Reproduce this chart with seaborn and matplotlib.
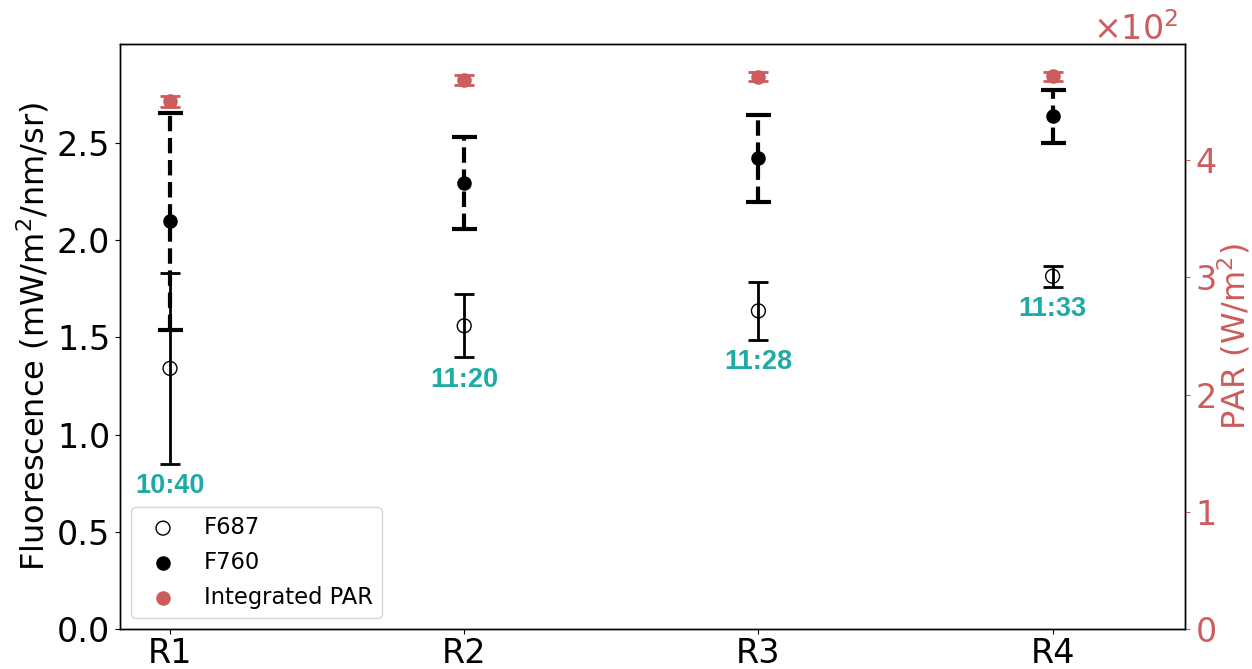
import numpy as np
import matplotlib
matplotlib.use("Agg")
import matplotlib.pyplot as plt
import seaborn as sns
from matplotlib.ticker import ScalarFormatter

# ---- data ----
categories = ["R1", "R2", "R3", "R4"]
times = ["10:40", "11:20", "11:28", "11:33"]
f687_mean = [1.341, 1.560, 1.637, 1.815]
f687_err = [0.490, 0.162, 0.148, 0.053]
f760_mean = [2.099, 2.293, 2.421, 2.639]
f760_err = [0.558, 0.236, 0.223, 0.136]
par_mean = [450.0, 468.0, 471.0, 471.5]
par_err = [5.0, 4.3, 3.7, 3.8]

sns.set_style("ticks")
plt.rcParams.update({
    "font.family": ["DejaVu Sans"],
    "axes.edgecolor": "black",
    "axes.labelcolor": "black",
    "text.color": "black",
    "xtick.color": "black",
    "ytick.color": "black",
    "axes.linewidth": 1.0,
})

RED = "#cd5c5c"
TEAL = "#20aaa6"

x = np.arange(len(categories))

fig = plt.figure(figsize=(12.52, 6.69), dpi=100)
ax = fig.add_axes([120 / 1252, 40 / 669, 1065 / 1252, 585 / 669])
ax2 = ax.twinx()

# F687 error bars (solid, thin)
ax.errorbar(x, f687_mean, yerr=f687_err, fmt="none", ecolor="black",
            elinewidth=2, capsize=7, capthick=2, zorder=2)
# F760 error bars (dashed, thick)
eb = ax.errorbar(x, f760_mean, yerr=f760_err, fmt="none", ecolor="black",
                 elinewidth=3, capsize=9, capthick=3, zorder=2)
eb[2][0].set_linestyle("--")

sns.scatterplot(x=x, y=f687_mean, ax=ax, marker="o", s=100,
                facecolors="none", edgecolor="black", linewidth=1,
                label="F687", zorder=3, legend=False)
sns.scatterplot(x=x, y=f760_mean, ax=ax, marker="o", s=110,
                color="black", edgecolor="black", linewidth=0,
                label="F760", zorder=3, legend=False)

# PAR on right axis
ax2.errorbar(x, par_mean, yerr=par_err, fmt="none", ecolor=RED,
             elinewidth=2, capsize=7, capthick=2, zorder=2)
sns.scatterplot(x=x, y=par_mean, ax=ax2, marker="o", s=110,
                color=RED, edgecolor=RED, linewidth=0,
                label="Integrated PAR", zorder=3, legend=False)

# time annotations
for xi, m, e, t in zip(x, f687_mean, f687_err, times):
    ax.annotate(t, xy=(xi, m - e), xytext=(0, -16), textcoords="offset points",
                ha="center", va="center", color=TEAL, fontsize=19.5,
                fontweight="bold", family="Liberation Sans")

ax.set_xlim(-0.17, 3.45)
ax.set_ylim(0, 3.01)
ax2.set_ylim(0, 499)
ax.set_xticks(x)
ax.set_xticklabels(categories)
ax.set_yticks([0.0, 0.5, 1.0, 1.5, 2.0, 2.5])
ax.set_yticklabels(["0.0", "0.5", "1.0", "1.5", "2.0", "2.5"])
ax.tick_params(axis="both", labelsize=24)
ax.tick_params(axis="x", pad=2.5)
ax.set_ylabel("Fluorescence (mW/m$^2$/nm/sr)", fontsize=23)

ax2.set_yticks([0, 100, 200, 300, 400])
fmt = ScalarFormatter(useMathText=True)
fmt.set_powerlimits((0, 0))
ax2.yaxis.set_major_formatter(fmt)
ax2.tick_params(axis="y", colors=RED, labelsize=24)
off = ax2.yaxis.get_offset_text()
off.set_fontsize(24)
off.set_color(RED)
off.set_x(1 - 7 / 1065)
ax2.set_ylabel("PAR (W/m$^2$)", fontsize=23, color=RED, labelpad=0)
for sp in ax2.spines.values():
    sp.set_edgecolor("black")

h1, l1 = ax.get_legend_handles_labels()
h2, l2 = ax2.get_legend_handles_labels()
ax2.legend(h1 + h2, l1 + l2, loc="lower left", fontsize=16.3,
           labelspacing=0.52, frameon=True)

fig.savefig("out.png", dpi=100)
